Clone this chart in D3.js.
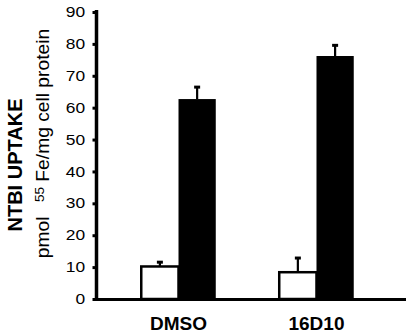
<!DOCTYPE html>
<html>
<head>
<meta charset="utf-8">
<script src="https://cdn.jsdelivr.net/npm/d3@7"></script>
<style>
  html, body { margin: 0; padding: 0; background: #fff; }
  svg { display: block; }
</style>
</head>
<body>
<svg id="chart" width="410" height="334"></svg>
<script>
// ---- data ----
const categories = ["DMSO", "16D10"];
const seriesNames = ["control", "treated"];
const controlValues = [10.2, 8.4];
const controlErrors = [1.5, 4.6];
const treatedValues = [62.7, 76.2];
const treatedErrors = [3.9, 3.5];
const yTicks = [0, 10, 20, 30, 40, 50, 60, 70, 80, 90];
const yTitle1 = "NTBI UPTAKE";
const yTitle2a = "pmol";
const yTitle2sup = "55";
const yTitle2b = "Fe/mg cell protein";

const seriesFill = { control: "#ffffff", treated: "#000000" };

const rows = categories.map((c, i) => ({
  cat: c,
  bars: [
    { s: "control", v: controlValues[i], e: controlErrors[i] },
    { s: "treated", v: treatedValues[i], e: treatedErrors[i] }
  ]
}));

const svg = d3.select("#chart");
const axisX = 96.5, baseY = 299.5;

const y = d3.scaleLinear().domain([0, 90]).range([299, 12]);
const x0 = d3.scaleBand().domain(categories).range([104, 391])
  .paddingInner(0.46).paddingOuter(0.27);
const x1 = d3.scaleBand().domain(seriesNames).range([0, x0.bandwidth()]).padding(0);

// bars
const g = svg.append("g");
const grp = g.selectAll("g.grp").data(rows).join("g")
  .attr("transform", d => `translate(${x0(d.cat)},0)`);

grp.selectAll("rect.bar").data(d => d.bars).join("rect")
  .attr("class", "bar")
  .attr("x", d => x1(d.s))
  .attr("width", x1.bandwidth())
  .attr("y", d => y(d.v))
  .attr("height", d => y(0) - y(d.v))
  .attr("fill", d => seriesFill[d.s])
  .attr("stroke", "#000")
  .attr("stroke-width", d => d.s === "control" ? 2.5 : 0);

// error bars
grp.selectAll("line.err").data(d => d.bars).join("line")
  .attr("x1", d => x1(d.s) + x1.bandwidth() / 2)
  .attr("x2", d => x1(d.s) + x1.bandwidth() / 2)
  .attr("y1", d => y(d.v))
  .attr("y2", d => y(d.v + d.e))
  .attr("stroke", "#000").attr("stroke-width", 2.2);
grp.selectAll("rect.cap").data(d => d.bars).join("rect")
  .attr("x", d => x1(d.s) + x1.bandwidth() / 2 - 3)
  .attr("width", 6)
  .attr("y", d => y(d.v + d.e) - 1)
  .attr("height", 3)
  .attr("fill", "#000");

// y axis
const yAxis = d3.axisLeft(y).tickValues(yTicks).tickSize(4).tickSizeOuter(0).tickPadding(5.5);
const ya = svg.append("g").attr("transform", `translate(${axisX},0)`).call(yAxis);
ya.select(".domain").attr("stroke-width", 3.5).attr("d", `M0,${baseY + 1.5}V10`);
ya.selectAll(".tick line").attr("stroke-width", 3);
ya.selectAll(".tick text")
  .attr("font-family", "'Liberation Sans', Arial, sans-serif")
  .attr("font-size", 14.5)
  .attr("fill", "#000")
  .attr("transform", "scale(1.2,1)");

// x axis (baseline + labels)
const xAxis = d3.axisBottom(x0).tickSize(0).tickPadding(17);
const xa = svg.append("g").attr("transform", `translate(0,${baseY})`).call(xAxis);
xa.select(".domain").attr("stroke-width", 3).attr("d", `M${axisX - 1.5},0H406`);
xa.selectAll(".tick text")
  .attr("font-family", "'Liberation Sans', Arial, sans-serif")
  .attr("font-weight", "bold")
  .attr("font-size", 19)
  .attr("fill", "#000");

// y titles
svg.append("text")
  .attr("transform", "translate(22,165) rotate(-90)")
  .attr("text-anchor", "middle")
  .attr("font-family", "'Liberation Sans', Arial, sans-serif")
  .attr("font-weight", "bold")
  .attr("font-size", 20)
  .text(yTitle1);

const t2 = svg.append("text")
  .attr("transform", "translate(49,143.5) rotate(-90) scale(1.04,1)")
  .attr("text-anchor", "middle")
  .attr("font-family", "'Liberation Sans', Arial, sans-serif")
  .attr("font-size", 18.5);
t2.append("tspan").text(yTitle2a);
t2.append("tspan").attr("dx", 14).attr("dy", -5).attr("font-size", 13).text(yTitle2sup);
t2.append("tspan").attr("dx", 5).attr("dy", 5).text(yTitle2b);
</script>
</body>
</html>
